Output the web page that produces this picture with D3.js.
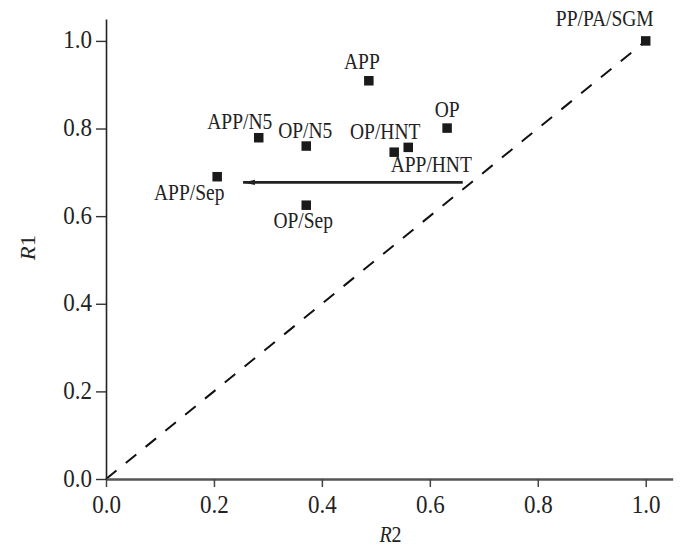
<!DOCTYPE html>
<html><head><meta charset="utf-8">
<script src="https://cdn.jsdelivr.net/npm/d3@7/dist/d3.min.js"></script>
<style>
html,body{margin:0;padding:0;background:#fff;}
svg text{font-family:"Liberation Serif","Times New Roman",serif;fill:#222;}
</style></head>
<body><svg id="c" width="681" height="546"></svg>
<script>
// ---- data ----
const names = ["PP/PA/SGM","APP","OP","APP/N5","OP/N5","OP/HNT","APP/HNT","APP/Sep","OP/Sep"];
const r2Values = [1.000, 0.487, 0.632, 0.283, 0.371, 0.534, 0.560, 0.206, 0.371];
const r1Values = [1.000, 0.909, 0.801, 0.779, 0.760, 0.746, 0.757, 0.690, 0.625];
const tickValues = [0, 0.2, 0.4, 0.6, 0.8, 1.0];
const arrowFrom = [0.661, 0.677];
const arrowTo = [0.254, 0.677];
const diagonal = [[0,0],[1,1]];

// ---- label placement (pixels relative to marker) ----
const labelDx = [-41, -7, 0, -19, -1, -9, 23, -28, -3];
const labelDy = [-15, -12, -11, -9, -8, -13, 25, 23, 23];

const SY = 1.14; // vertical stretch of the reference glyphs
const svg = d3.select("#c");
const x = d3.scaleLinear().domain([0,1.05]).range([106, 672.7]);
const y = d3.scaleLinear().domain([0,1.05]).range([479, 19]);

// dashed diagonal
svg.append("path")
  .attr("d", d3.line().x(d=>x(d[0])).y(d=>y(d[1]))(diagonal))
  .attr("stroke","#111").attr("stroke-width",2).attr("fill","none")
  .attr("stroke-dasharray","13.5,12");

// arrow
svg.append("defs").append("marker")
  .attr("id","ah").attr("viewBox","0 0 12 6").attr("refX",12).attr("refY",3)
  .attr("markerWidth",12).attr("markerHeight",6).attr("markerUnits","userSpaceOnUse")
  .attr("orient","auto")
  .append("path").attr("d","M12,3L0,0.4L0,5.6Z").attr("fill","#222");
svg.append("line")
  .attr("x1", x(arrowFrom[0])).attr("y1", y(arrowFrom[1]))
  .attr("x2", x(arrowTo[0])).attr("y2", y(arrowTo[1]))
  .attr("stroke","#222").attr("stroke-width",2.6)
  .attr("marker-end","url(#ah)");

// axes
const xAxis = svg.append("g").attr("transform","translate(0,479)")
  .call(d3.axisBottom(x).tickValues(tickValues).tickSize(8).tickSizeOuter(0).tickFormat(d3.format(".1f")));
xAxis.select(".domain").attr("stroke","#555").attr("stroke-width",2.4);
xAxis.selectAll(".tick line").attr("stroke","#444").attr("stroke-width",1.5);
xAxis.selectAll(".tick text").attr("y",null).attr("dy",null)
  .attr("transform",`translate(0,34) scale(1,${SY})`)
  .style("font-size","23px").attr("fill","#222");

const yAxis = svg.append("g").attr("transform","translate(106,0)")
  .call(d3.axisLeft(y).tickValues(tickValues).tickSize(10).tickSizeOuter(0).tickFormat(d3.format(".1f")));
yAxis.select(".domain").attr("stroke","#222").attr("stroke-width",1.6);
yAxis.selectAll(".tick line").attr("stroke","#333").attr("stroke-width",1.4);
yAxis.selectAll(".tick text").attr("x",null).attr("dy",null)
  .attr("transform",`translate(-14,7) scale(1,${SY})`)
  .style("font-size","23px").attr("fill","#222");

// axis titles
const t2 = svg.append("text").attr("text-anchor","middle")
  .attr("transform",`translate(390.5,542) scale(1,${SY})`).style("font-size","20px");
t2.append("tspan").attr("font-style","italic").text("R");
t2.append("tspan").text("2");
const t1 = svg.append("text").attr("text-anchor","middle")
  .attr("transform",`translate(35,247.5) rotate(-90) scale(${SY},1)`).style("font-size","20px");
t1.append("tspan").attr("font-style","italic").text("R");
t1.append("tspan").text("1");

// points
const pts = names.map((n,i)=>({n, r2:r2Values[i], r1:r1Values[i], dx:labelDx[i], dy:labelDy[i]}));
const s = 9.5;
svg.selectAll("rect.pt").data(pts).join("rect").attr("class","pt")
  .attr("x", d=>x(d.r2)-s/2).attr("y", d=>y(d.r1)-s/2)
  .attr("width", s).attr("height", s).attr("fill","#1a1a1a");
svg.selectAll("text.lbl").data(pts).join("text").attr("class","lbl")
  .attr("text-anchor","middle")
  .attr("transform", d=>`translate(${x(d.r2)+d.dx},${y(d.r1)+d.dy}) scale(1,${SY})`)
  .style("font-size","19.5px").text(d=>d.n);
</script></body></html>
